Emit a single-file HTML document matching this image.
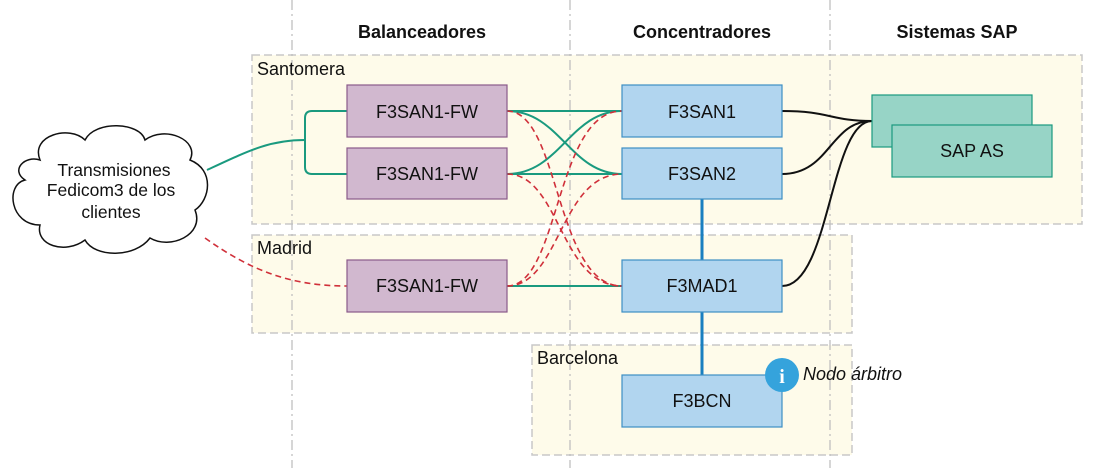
<!DOCTYPE html>
<html><head><meta charset="utf-8"><style>
html,body{margin:0;padding:0;background:#fff;}
svg{display:block;font-family:"Liberation Sans",sans-serif;}
</style></head><body>
<svg width="1098" height="468" viewBox="0 0 1098 468" xmlns="http://www.w3.org/2000/svg">
<g fill="#fefbea" stroke="#c8c8c8" stroke-width="1.5" stroke-dasharray="8 4">
<rect x="252" y="55" width="830" height="169"/>
<rect x="252" y="235" width="600" height="98"/>
<rect x="532" y="345" width="320" height="110"/>
</g>
<g stroke="#c0c0c0" stroke-width="1.3" stroke-dasharray="10 4 2 4">
<line x1="292" y1="0" x2="292" y2="468"/>
<line x1="570" y1="0" x2="570" y2="468"/>
<line x1="830" y1="0" x2="830" y2="468"/>
</g>
<g font-weight="bold" font-size="18" text-anchor="middle" fill="#111">
<text x="422" y="38">Balanceadores</text>
<text x="702" y="38">Concentradores</text>
<text x="957" y="38">Sistemas SAP</text>
</g>
<g font-size="18" fill="#111">
<text x="257" y="75">Santomera</text>
<text x="257" y="254">Madrid</text>
<text x="537" y="364">Barcelona</text>
</g>
<path d="M40,160 C30,135 70,125 85,140 C95,120 140,122 145,140 C165,125 200,140 190,160 C215,170 210,200 195,210 C205,235 170,250 150,238 C135,258 95,258 85,240 C65,255 35,245 40,225 C10,225 5,185 25,180 C10,170 25,155 40,160 Z" fill="#fff" stroke="#111" stroke-width="1.5"/>
<g font-size="17.5" text-anchor="middle" fill="#111">
<text x="114" y="176">Transmisiones</text>
<text x="111" y="196">Fedicom3 de los</text>
<text x="111" y="218">clientes</text>
</g>
<g fill="none" stroke="#1a9a7f" stroke-width="2">
<path d="M207,170 C250,150 270,140 305,140"/>
<path d="M347,111 H312 Q305,111 305,118 V167 Q305,174 312,174 H347"/>
<path d="M507,111 H622"/><path d="M507,174 H622"/><path d="M507,286 H622"/>
<path d="M507,111 C560,111 570,174 622,174"/>
<path d="M507,174 C560,174 570,111 622,111"/>
</g>
<g fill="none" stroke="#d0303a" stroke-width="1.6" stroke-dasharray="6 4">
<path d="M205,238 C250,270 290,286 347,286"/>
<path d="M507,111 C560,111 555,286 622,286"/>
<path d="M507,174 C560,174 560,286 622,286"/>
<path d="M507,286 C560,286 555,111 622,111"/>
<path d="M507,286 C560,286 560,174 622,174"/>
</g>
<g stroke="#1a7fc0" stroke-width="3"><line x1="702" y1="199" x2="702" y2="260"/><line x1="702" y1="312" x2="702" y2="375"/></g>
<g fill="none" stroke="#111" stroke-width="2">
<path d="M782,111 C830,111 830,121 872,121"/>
<path d="M782,174 C830,174 830,121 872,121"/>
<path d="M782,286 C830,286 830,121 872,121"/>
</g>
<g fill="#d1b8cf" stroke="#8a5a8a" stroke-width="1.2">
<rect x="347" y="85" width="160" height="52"/><rect x="347" y="148" width="160" height="51"/><rect x="347" y="260" width="160" height="52"/>
</g>
<g fill="#b1d5ef" stroke="#3d8fc4" stroke-width="1.2">
<rect x="622" y="85" width="160" height="52"/><rect x="622" y="148" width="160" height="51"/><rect x="622" y="260" width="160" height="52"/><rect x="622" y="375" width="160" height="52"/>
</g>
<g fill="#97d4c6" stroke="#1a9a7f" stroke-width="1.2">
<rect x="872" y="95" width="160" height="52"/><rect x="892" y="125" width="160" height="52"/>
</g>
<g font-size="18" text-anchor="middle" fill="#111">
<text x="427" y="118">F3SAN1-FW</text><text x="427" y="180">F3SAN1-FW</text><text x="427" y="292">F3SAN1-FW</text>
<text x="702" y="118">F3SAN1</text><text x="702" y="180">F3SAN2</text><text x="702" y="292">F3MAD1</text><text x="702" y="407">F3BCN</text>
<text x="972" y="157">SAP AS</text>
</g>
<circle cx="782" cy="375" r="17" fill="#35a3dc"/>
<text x="782" y="383" font-size="20" font-weight="bold" fill="#fff" text-anchor="middle" font-family="Liberation Serif,serif">i</text>
<text x="803" y="380" font-size="18" font-style="italic" fill="#111">Nodo árbitro</text>
</svg>
</body></html>
